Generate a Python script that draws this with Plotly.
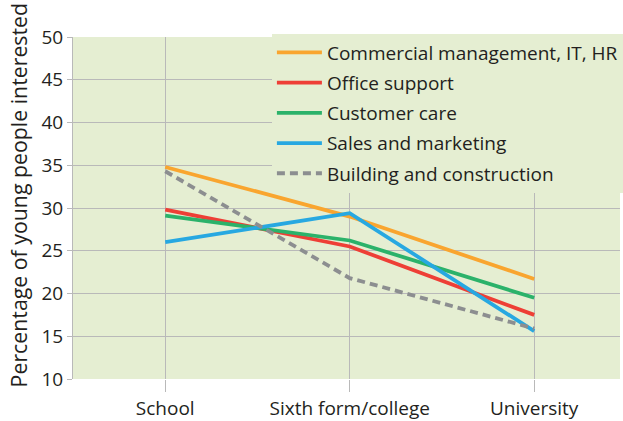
import plotly.graph_objects as go

categories = ["School", "Sixth form/college", "University"]
series_names = ["Commercial management, IT, HR", "Office support", "Customer care",
                "Sales and marketing", "Building and construction"]
commercial = [34.8, 29.0, 21.7]
office = [29.8, 25.5, 17.5]
customer = [29.1, 26.2, 19.5]
sales = [26.0, 29.4, 15.6]
building = [34.3, 21.8, 15.9]
y_ticks = [10, 15, 20, 25, 30, 35, 40, 45, 50]

values = [commercial, office, customer, sales, building]
colors = ["#f9a52f", "#ee3f36", "#2bb26a", "#27a8e1", "#8c8e90"]
dashes = ["solid", "solid", "solid", "solid", "8px,5px"]

fig = go.Figure()
for i, (name, vals) in enumerate(zip(series_names, values)):
    fig.add_trace(go.Scatter(
        x=list(range(len(categories))), y=vals, name=name, mode="lines",
        line=dict(color=colors[i], width=3.8, dash=dashes[i]),
        legendgroup=f"g{i}",
    ))

bg = "#e5eed2"
font_family = "'Open Sans', sans-serif"
fig.update_layout(
    width=623, height=421,
    margin=dict(l=73, r=0, t=37, b=40),
    paper_bgcolor="white", plot_bgcolor=bg,
    font=dict(family=font_family, size=19, color="#231f20"),
    showlegend=True,
    legend=dict(x=(273 - 73) / 550, y=1.01, xanchor="left", yanchor="top", bgcolor=bg,
                font=dict(size=19, color="#231f20"), tracegroupgap=2.5,
                itemwidth=45, borderwidth=0),
    xaxis=dict(
        tickmode="array", tickvals=list(range(len(categories))), ticktext=categories,
        range=[-0.5, 2.465], showgrid=True, gridcolor="#b9b9b9", gridwidth=1,
        ticks="outside", ticklen=12, tickcolor="#b9b9b9", zeroline=False,
        showline=False, tickfont=dict(size=19),
    ),
    yaxis=dict(
        range=[10, 50], tickvals=y_ticks, showgrid=True, gridcolor="#b9b9b9",
        gridwidth=1, ticks="outside", ticklen=5, tickcolor="#b9b9b9",
        showline=True, linecolor="#b9b9b9", linewidth=1, zeroline=False,
        tickfont=dict(size=19),
    ),
    annotations=[dict(
        text="Percentage of young people interested", textangle=-90,
        xref="paper", yref="paper", x=(18 - 73) / 550, y=(381 - 196) / 344,
        xanchor="center", yanchor="middle", showarrow=False,
        font=dict(size=21.3, color="#231f20"),
    )],
)
fig.write_html("out.html", config={"displayModeBar": False},
               post_script="document.body.style.margin='0px';")
